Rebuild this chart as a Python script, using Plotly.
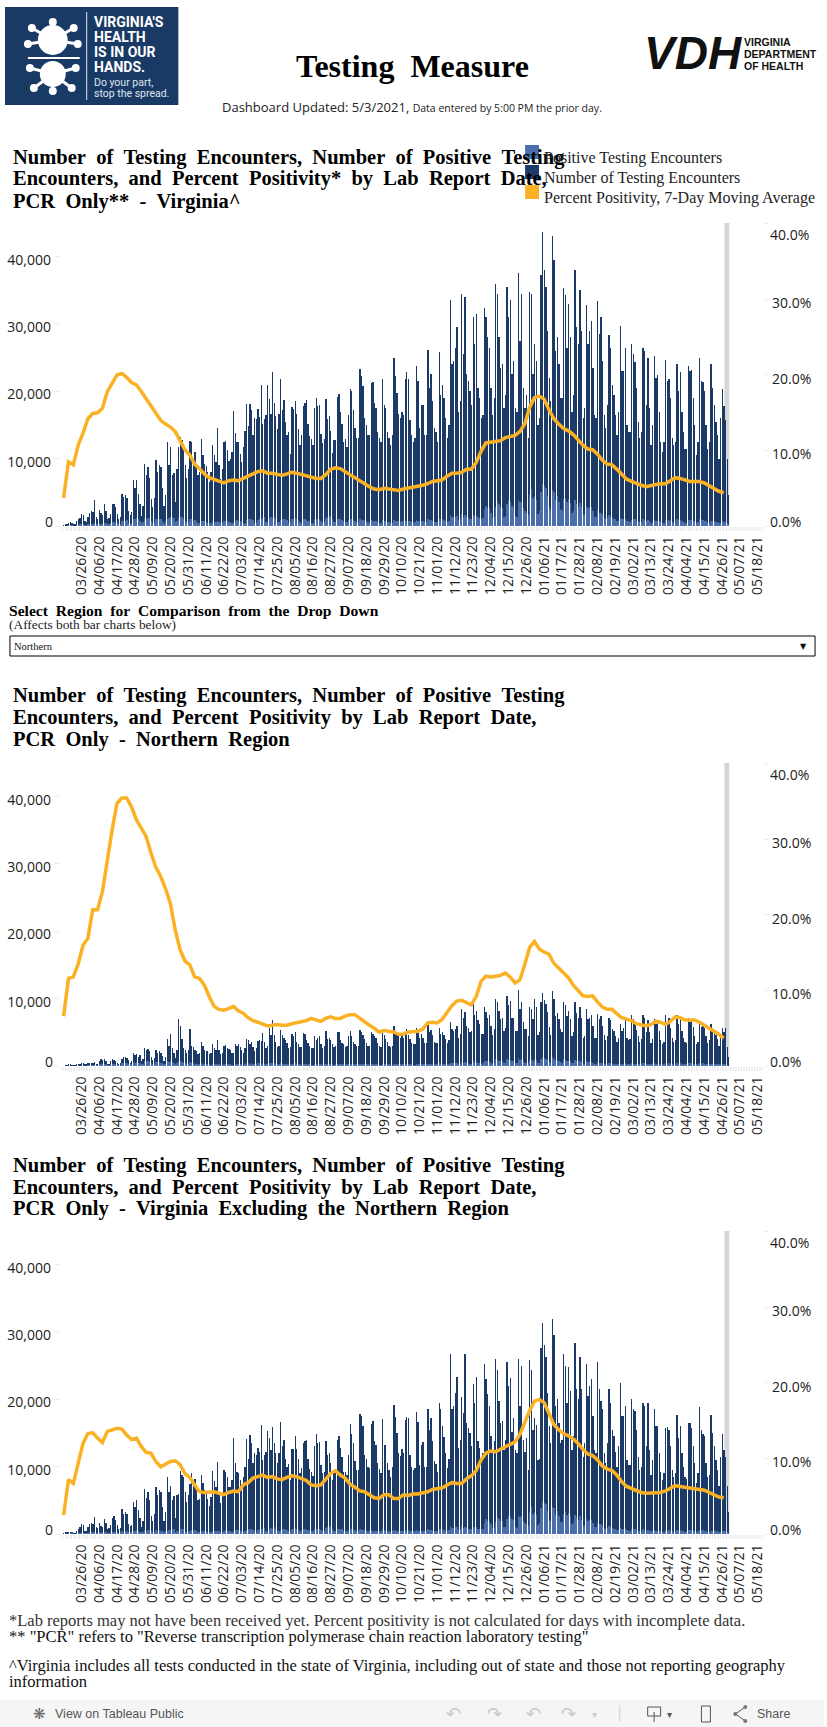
import pandas as pd
import plotly.graph_objects as go

W, H = 827, 1727
TICK_LABELS = ["03/26/20","04/06/20","04/17/20","04/28/20","05/09/20","05/20/20","05/31/20","06/11/20","06/22/20","07/03/20","07/14/20","07/25/20","08/05/20","08/16/20","08/27/20","09/07/20","09/18/20","09/29/20","10/10/20","10/21/20","11/01/20","11/12/20","11/23/20","12/04/20","12/15/20","12/26/20","01/06/21","01/17/21","01/28/21","02/08/21","02/19/21","03/02/21","03/13/21","03/24/21","04/04/21","04/15/21","04/26/21","05/07/21","05/18/21"]
FIRST_DAY = "2020-03-15"
HUNDREDS = 100

# daily counts in hundreds, one group per week
va_total = [
1,3,2,5,6,5,3, 2,7,10,12,18,17,8, 6,13,19,22,21,38,14, 11,24,20,16,32,23,10, 12,18,33,33,28,18,11,
14,48,43,46,42,22,17, 21,68,56,68,48,32,15, 30,92,76,88,72,40,28, 42,98,80,90,88,56,30, 46,125,90,118,76,78,35,
85,118,132,128,118,90,72, 85,126,124,98,110,92,75, 80,129,106,92,89,80,65, 80,120,105,95,145,90,70, 85,125,126,113,96,100,110,
171,138,125,125,107,95,117, 141,181,148,181,172,135,160, 159,174,162,209,151,159,165, 209,189,166,229,182,163,144, 167,219,172,187,154,135,139,
107,177,174,185,166,144,121, 135,178,183,187,151,133,129, 120,175,190,178,180,137,123, 129,189,159,163,141,108,128, 128,192,196,169,151,125,129,
118,165,204,200,172,145,130, 130,233,222,208,160,150,135, 135,212,214,182,175,140,130, 125,219,179,175,140,130,120, 135,249,223,197,166,160,170,
165,219,229,218,158,135,125, 130,238,215,145,180,180,135, 135,261,205,225,185,145,140, 125,259,195,210,190,160,130, 150,336,240,245,265,296,170,
185,345,255,340,225,215,200, 180,311,270,315,205,190,160, 165,323,310,281,265,205,165, 190,360,345,280,235,240,175, 195,355,310,336,225,245,175,
170,375,275,345,205,175,195, 130,348,345,225,270,245,150, 160,373,436,380,355,290,220, 185,431,395,260,280,240,190, 190,353,343,265,330,280,170,
195,380,295,270,350,290,160, 175,328,270,290,305,235,165, 160,334,285,310,245,165,145, 180,284,265,210,195,165,135, 170,297,230,230,264,150,140,
140,270,255,244,205,155,130, 140,264,260,180,250,175,120, 150,252,220,224,170,125,110, 125,247,215,219,190,130,120, 125,241,200,228,170,140,115,
115,238,230,232,190,150,105, 125,249,215,214,200,150,115, 125,241,205,180,155,135,100, 160,204,178,157,99,46]
va_positive = [
0,0,0,1,1,1,0, 0,1,1,2,2,2,1, 1,2,3,3,3,4,2, 2,4,3,3,5,4,2, 2,4,6,6,5,4,2,
3,7,7,8,9,5,3, 4,10,11,12,10,7,4, 6,12,11,12,12,8,5, 6,11,10,11,11,8,5, 7,11,12,13,14,12,6,
8,12,14,14,11,8,6, 6,10,10,8,9,8,5, 5,8,7,7,6,5,4, 4,7,6,6,7,6,4, 4,7,8,7,6,6,4,
5,8,9,8,8,6,5, 5,9,10,10,11,9,5, 5,9,11,11,12,13,6, 6,12,13,12,14,11,6, 6,9,11,10,10,9,5,
6,11,11,12,10,9,6, 5,10,10,9,8,7,5, 5,10,11,10,10,8,5, 6,12,13,14,15,10,6, 6,11,11,10,9,7,6,
6,9,10,10,9,8,6, 6,10,9,9,8,7,6, 5,9,8,7,7,6,5, 5,9,8,7,6,6,5, 5,9,8,7,7,6,7,
7,8,8,8,7,6,6, 6,9,8,7,7,7,6, 6,10,9,9,8,6,6, 6,11,10,10,9,8,6, 8,17,13,13,14,15,9,
10,18,14,17,13,12,11, 10,17,15,16,13,12,10, 12,25,30,27,26,20,12, 14,28,35,32,28,26,14, 15,32,38,35,30,28,15,
14,38,35,36,26,22,20, 16,48,55,42,45,38,18, 22,50,62,60,56,45,28, 24,54,50,38,44,35,25, 24,40,42,36,40,34,20,
22,38,32,28,34,28,16, 16,30,26,28,28,22,14, 13,24,20,20,16,12,10, 12,16,14,12,11,10,8, 8,12,11,10,11,8,7,
6,9,10,10,8,7,6, 6,10,9,8,9,7,5, 6,9,8,8,7,6,5, 5,9,8,9,7,6,5, 6,10,9,9,7,6,5,
5,9,9,9,8,7,5, 6,10,9,9,8,7,5, 5,8,8,7,6,6,4, 4,7,6,6,4,2]
va_pct = [3.7,8.5,8.1,10.7,12.3,14.2,14.9,15,15.6,17.8,18.9,20,20.2,19.7,19,18.7,17.8,16.8,16,14.8,14,13.5,13.1,12.5,11.4,10.1,9.4,8.2,7.6,6.9,6.4,6.2,5.9,5.7,6,6.1,6,6.3,6.6,6.8,7.2,7.3,7,7,6.8,6.7,6.9,7.1,7,6.8,6.7,6.4,6.3,6.3,6.8,7.5,7.7,7.6,7.2,6.8,6.4,5.9,5.6,5.2,4.9,4.8,5,4.9,4.7,4.7,4.9,5,5.1,
5.2,5.4,5.6,5.9,6.0,6.1,6.6,7.0,7.0,7.1,7.5,7.5,8.4,9.9,11.0,11.1,11.1,11.3,11.7,11.9,12.0,12.5,13.5,15.7,17.0,17.2,16.8,15.4,14.2,13.5,12.9,12.6,12.1,11.4,10.7,10.2,10.1,9.5,8.7,8.2,8.1,7.5,6.8,6.2,5.9,5.6,5.4,5.2,5.4,5.5,5.6,5.6,6.0,6.4,6.3,6.1,5.9,5.9,5.9,5.7,5.3,5.0,4.6,4.4]

north_total = [
0,1,1,2,2,1,1, 1,2,3,2,4,4,2, 2,4,5,5,4,6,3, 2,7,11,9,10,7,3, 2,7,10,9,8,4,3,
5,11,14,14,12,9,5, 7,19,16,18,14,16,8, 10,26,24,25,22,14,9, 12,24,20,22,20,15,8, 14,40,30,48,26,20,12,
24,70,59,40,27,24,20, 24,55,30,28,24,22,18, 20,36,30,24,23,22,18, 20,32,27,24,38,24,18, 20,30,31,26,25,24,20,
20,32,29,32,28,24,20, 26,40,39,33,36,28,22, 26,37,38,37,49,36,26, 30,56,46,68,46,36,28, 30,53,46,42,38,34,26,
28,48,45,50,36,32,28, 28,49,47,38,34,30,26, 26,44,38,42,44,32,26, 30,52,40,42,38,33,28, 30,51,50,38,34,32,28,
30,45,52,44,36,32,30, 30,54,50,46,40,34,30, 30,51,48,44,42,34,30, 28,49,46,40,35,30,28, 30,59,52,48,46,42,44,
42,48,55,46,40,34,32, 32,57,50,42,48,42,34, 34,61,50,54,46,36,34, 34,57,48,50,46,40,34, 38,65,55,52,55,60,42,
48,85,72,80,60,56,50, 52,92,75,82,68,62,48, 48,87,80,72,75,60,46, 55,100,95,82,70,72,52, 56,104,90,96,72,72,52,
52,113,85,95,65,55,55, 44,87,85,70,100,88,46, 50,95,108,98,92,80,58, 46,111,100,74,78,70,55, 50,95,90,74,82,70,44,
50,95,78,72,88,72,42, 44,85,70,72,76,60,42, 42,77,70,74,60,46,38, 44,72,68,55,52,44,36, 42,62,52,56,72,42,38,
40,76,70,62,54,44,36, 40,75,72,50,68,50,34, 40,70,62,64,52,38,32, 36,75,62,72,56,42,36, 38,76,62,70,52,42,36,
34,72,66,68,58,44,32, 36,63,58,60,56,44,34, 38,62,56,50,46,40,30, 42,57,50,56,28,13]
north_positive = [
0,0,0,0,0,0,0, 0,0,1,0,1,1,0, 0,1,1,1,1,1,1, 1,2,3,2,3,2,1, 1,2,3,3,3,2,1,
1,4,4,5,4,3,2, 2,6,5,6,5,4,2, 3,7,7,7,6,4,3, 3,6,6,6,5,4,2, 3,7,6,8,6,5,3,
4,8,7,6,5,4,3, 3,6,4,4,3,3,2, 2,4,3,3,3,2,2, 1,3,3,2,3,2,1, 1,3,3,2,2,2,1,
1,3,3,3,3,2,1, 2,4,4,3,4,3,2, 2,4,4,3,4,3,2, 2,4,4,5,4,3,2, 2,4,3,3,3,3,2,
2,3,3,4,3,2,2, 1,3,3,3,2,2,1, 1,3,3,3,3,2,1, 2,3,3,3,3,2,1, 2,3,3,3,2,2,1,
2,3,3,3,3,2,2, 2,3,3,3,2,2,2, 1,3,3,3,2,2,1, 1,2,2,2,2,2,1, 1,3,3,2,2,2,2,
2,2,3,2,2,2,1, 1,3,3,2,2,2,2, 2,3,3,3,3,2,2, 2,4,3,3,3,3,2, 2,5,4,4,4,4,3,
3,6,5,6,4,4,3, 3,7,5,6,5,4,3, 4,8,8,7,7,5,3, 5,10,10,8,7,7,4, 5,10,9,9,7,7,4,
5,12,9,10,7,5,5, 4,9,10,7,11,9,4, 5,11,13,12,11,9,6, 5,13,11,8,9,8,6, 5,10,9,7,8,7,4,
5,9,7,7,8,6,3, 3,7,6,6,6,5,3, 3,6,5,5,4,3,2, 2,4,4,3,3,2,2, 2,3,3,3,4,2,2,
2,4,3,3,3,2,2, 2,4,4,3,3,3,2, 2,4,3,3,3,2,2, 2,4,3,4,3,2,2, 2,4,3,4,3,2,2,
2,4,4,4,3,3,2, 2,4,3,4,3,3,2, 2,3,3,3,3,2,2, 2,3,3,3,1,0]
north_pct = [6.6,11.6,11.8,13.5,16,16.9,20.7,20.7,23.1,27.3,31.3,34.8,35.5,35.5,34.3,32.6,31.5,30.4,28.2,26.3,25.1,23.5,21.5,18,15.4,13.9,13.4,11.8,11.6,10.7,9.2,7.9,7.5,7.4,7.6,7.9,7.3,7,6.4,6,5.8,5.5,5.3,5.4,5.5,5.4,5.4,5.6,5.7,5.8,6,6.3,6.1,5.9,6.3,6.5,6.3,6.3,6.6,6.8,6.8,6.3,5.9,5.4,5,4.5,4.7,4.6,4.5,4.2,4.2,4.5,4.6,
4.6,4.9,5.7,5.8,5.7,6.2,7.2,8.0,8.6,8.7,8.4,8.1,9.2,11.2,11.9,11.8,11.9,12,12.3,11.8,11,11.4,13.4,15.7,16.5,15.5,15.1,14.8,13.6,13,12.4,11.7,10.7,10,9.3,9.2,9.3,8.5,7.8,7.5,7.5,6.9,6.4,6.2,6,5.6,5.4,5.3,5.5,5.9,5.8,5.5,5.9,6.5,6.4,6.1,6.1,6.1,5.8,5.4,5,4.7,4.2,3.7]

rest_total = [
1,2,2,3,3,3,1, 1,5,7,10,15,13,5, 5,10,15,17,15,25,11, 9,17,12,10,23,17,7, 9,13,24,26,21,14,8,
9,37,30,33,30,15,12, 14,48,40,50,36,24,10, 20,67,53,63,50,27,20, 30,70,58,65,62,40,20, 32,85,62,71,50,56,24,
58,60,94,88,85,62,48, 58,74,90,72,82,65,50, 52,88,76,66,62,52,42, 55,94,78,70,107,62,46, 60,95,92,85,70,70,80,
143,105,92,90,80,72,84, 100,141,112,147,135,105,120, 118,128,122,162,110,118,122, 153,142,125,159,135,120,105, 120,167,130,140,112,100,104,
80,126,126,146,126,112,90, 98,135,138,140,112,96,92, 86,130,148,135,137,102,90, 92,138,118,120,105,80,92, 92,140,146,128,115,92,92,
88,118,163,148,135,108,95, 95,178,175,160,118,112,100, 98,163,168,138,132,105,96, 90,171,132,132,105,95,85, 100,192,173,150,120,116,126,
120,170,173,172,118,100,95, 98,181,166,102,132,136,100, 100,186,155,172,138,108,104, 92,195,186,160,144,120,98, 112,268,185,190,210,233,128,
140,204,180,267,165,158,150, 130,222,195,233,138,128,115, 120,252,230,208,190,145,120, 138,260,244,198,165,168,125, 140,256,220,231,152,172,125,
120,260,190,250,140,122,143, 95,258,244,155,172,162,110, 112,276,314,280,263,210,160, 135,319,295,190,200,165,135, 140,267,250,195,248,212,125,
145,283,215,200,263,215,115, 135,253,205,220,230,175,125, 120,256,215,197,185,120,105, 135,216,195,155,145,122,100, 130,224,175,175,190,110,102,
102,200,185,182,155,115,95, 100,194,190,130,195,125,88, 110,186,160,160,120,92,80, 90,158,159,155,130,95,85, 90,176,142,160,120,100,85,
82,165,165,158,130,105,75, 90,188,155,148,145,105,85, 88,176,150,130,110,95,72, 115,148,125,115,72,33]
rest_positive = [
0,0,0,1,1,1,0, 0,1,1,1,2,1,1, 1,1,2,2,2,3,1, 1,2,2,1,3,2,1, 1,2,3,3,3,2,1,
2,4,3,4,4,2,2, 2,5,5,6,5,3,2, 3,6,5,6,6,4,3, 3,6,5,6,5,4,3, 4,5,6,6,7,7,3,
4,5,7,8,7,5,3, 4,5,6,5,6,5,3, 3,5,5,4,4,3,3, 3,5,4,4,5,4,3, 3,5,6,5,5,4,3,
4,6,6,6,5,4,3, 4,6,7,7,8,6,4, 3,6,7,8,8,9,5, 4,8,9,8,10,8,5, 4,6,8,8,7,6,4,
4,8,8,9,8,7,4, 4,7,7,6,6,5,4, 4,7,8,7,7,6,4, 4,9,10,11,12,8,5, 5,8,8,7,7,5,4,
4,6,7,7,6,6,4, 4,7,7,6,6,5,4, 4,6,5,5,5,4,4, 4,7,6,5,4,4,3, 4,6,6,5,5,4,5,
5,6,5,6,5,4,4, 5,6,5,5,5,5,4, 4,7,6,6,5,4,4, 4,7,7,7,6,5,4, 6,12,9,9,10,11,6,
7,12,9,11,9,8,8, 7,10,10,10,8,8,7, 8,17,22,20,19,15,9, 9,18,25,22,20,19,10, 10,22,27,25,22,21,11,
9,26,25,26,19,16,15, 12,32,40,30,33,28,13, 16,38,48,46,44,34,21, 19,40,38,28,34,26,18, 18,30,32,28,31,26,15,
17,28,25,21,26,21,12, 12,22,20,21,21,16,10, 10,17,15,15,12,9,7, 9,12,10,9,8,7,6, 6,9,8,7,8,6,5,
4,7,7,7,6,5,4, 4,7,6,5,6,5,4, 4,6,5,5,5,4,3, 3,6,5,6,5,4,3, 4,6,6,6,5,4,3,
4,6,6,6,5,4,3, 4,6,6,6,5,4,3, 3,5,5,5,4,4,3, 3,5,4,4,2,1]
rest_pct = [2.5,7.2,6.7,9.6,12,13.3,13.4,12.7,12.1,13.6,13.8,14,13.9,13.1,12.5,12.7,11.6,10.8,10.7,9.6,8.9,9.2,9.6,9.7,9.2,8,7.5,6.5,5.6,5.5,5.5,5.6,5.4,5.2,5.5,5.7,5.6,6.5,6.8,7.4,7.6,7.8,7.5,7.6,7.3,7.2,7.5,7.7,7.6,7.4,7.1,6.5,6.4,6.5,7.2,8,8.4,7.8,7.4,6.6,6.2,5.7,5.6,5.2,4.8,4.7,5.2,5.2,4.7,4.7,5.2,5.1,5.3,
5.3,5.4,5.6,5.9,6.0,6.1,6.5,6.8,6.7,6.7,7.3,7.7,8.4,9.8,10.7,11,10.9,11.2,11.5,11.9,12.2,13.2,14.8,16.3,17.6,17.8,17.4,15.9,14.5,13.8,13.3,13,12.6,12,11.2,10.6,10.4,9.8,9,8.6,8.4,7.8,6.9,6.3,6.0,5.8,5.5,5.4,5.4,5.5,5.5,5.7,6.1,6.4,6.3,6.2,6.1,6,6,5.8,5.5,5.2,4.9,4.8]

NAVY, BLUE, GOLD = "#1b3a68", "#4a6fab", "#fbb124"
SERIF, SANS, UI = "Liberation Serif", "Open Sans", "Liberation Sans"
BAR_DAYS = 0.2

def px(x): return x / W
def py(y): return 1 - y / H

days = pd.date_range(FIRST_DAY, periods=len(va_total), freq="D")
line_days = pd.date_range(FIRST_DAY, periods=len(va_pct), freq="3D")
tick_dates = [pd.to_datetime(t, format="%m/%d/%y").strftime("%Y-%m-%d") for t in TICK_LABELS]

fig = go.Figure()
shapes, notes = [], []

def txt(x, y, s, size=12, fam=SERIF, col="#000", bold=False, anchor="left"):
    t = f"<b>{s}</b>" if bold else s
    notes.append(dict(x=px(x), y=py(y), xref="paper", yref="paper", text=t, showarrow=False,
                      xanchor=anchor, yanchor="middle", borderpad=0, borderwidth=0,
                      font=dict(family=fam, size=size, color=col)))

def rect(x0, y0, x1, y1, fill="rgba(0,0,0,0)", line=None, lw=0):
    shapes.append(dict(type="rect", xref="paper", yref="paper", x0=px(x0), x1=px(x1), y0=py(y0), y1=py(y1),
                       fillcolor=fill, line=dict(color=line or fill, width=lw), layer="above"))

def oval(cx, cy, r, fill="#fff"):
    shapes.append(dict(type="circle", xref="paper", yref="paper", x0=px(cx-r), x1=px(cx+r), y0=py(cy-r), y1=py(cy+r),
                       fillcolor=fill, line=dict(width=0), layer="above"))

def seg(x0, y0, x1, y1, col="#fff", lw=2):
    shapes.append(dict(type="line", xref="paper", yref="paper", x0=px(x0), x1=px(x1), y0=py(y0), y1=py(y1),
                       line=dict(color=col, width=lw), layer="above"))

# three panels
panels = [(va_total, va_positive, va_pct, 223, 526, "", "2"),
          (north_total, north_positive, north_pct, 763, 1066, "3", "4"),
          (rest_total, rest_positive, rest_pct, 1231, 1534, "5", "6")]
layout_axes = {}
for i, (tot, pos, pct, top, bot, a, b) in enumerate(panels):
    xn = "x" if i == 0 else f"x{i+1}"
    yl = "y" + a
    yr = "y" + b
    fig.add_trace(go.Bar(x=days, y=[v * HUNDREDS for v in tot], xaxis=xn, yaxis=yl, marker=dict(color=NAVY, line=dict(width=0)),
                         width=86400000 * BAR_DAYS, name="Number of Testing Encounters"))
    fig.add_trace(go.Bar(x=days, y=[v * HUNDREDS for v in pos], xaxis=xn, yaxis=yl, marker=dict(color=BLUE, line=dict(width=0)),
                         width=86400000 * BAR_DAYS, name="Positive Testing Encounters"))
    fig.add_trace(go.Scatter(x=line_days, y=pct, xaxis=xn, yaxis=yr, mode="lines", line=dict(color=GOLD, width=3.5),
                             name="Percent Positivity, 7-Day Moving Average"))
    dom = [py(bot), py(top)]
    axfont = dict(family=SANS, size=14, color="#222")
    layout_axes[xn.replace("x", "xaxis")] = dict(
        domain=[px(61), px(766)], anchor=yl, range=["2020-03-13 06:00", "2021-05-21 10:00"], type="date",
        tickmode="array", tickvals=tick_dates, ticktext=TICK_LABELS, tickangle=-90, tickfont=axfont,
        ticks="outside", ticklen=4, tickcolor="#ececec", showgrid=False, zeroline=False, showline=False,
        minor=dict(dtick=86400000, tick0=FIRST_DAY, ticks="outside", ticklen=4, tickcolor="#ececec", showgrid=False))
    layout_axes[yl.replace("y", "yaxis")] = dict(
        domain=dom, anchor=xn, range=[0, 44990], tickmode="array", tickvals=[0, 10000, 20000, 30000, 40000],
        ticktext=["", "10,000", "20,000", "30,000", "40,000"], tickfont=axfont, ticks="outside", ticklen=6, tickcolor="#eeeeee",
        showgrid=False, zeroline=False, showline=False, ticklabelshift=3)
    layout_axes[yr.replace("y", "yaxis")] = dict(
        domain=dom, anchor=xn, overlaying=yl, side="right", range=[0, 40.13], tickmode="array", tickvals=[0, 10, 20, 30, 40],
        ticktext=["", "10.0%", "20.0%", "30.0%", ""], tickfont=axfont, ticks="outside", ticklen=5, tickcolor="#eeeeee",
        showgrid=False, zeroline=False, showline=False, ticklabelshift=4)
    shapes.append(dict(type="rect", xref=xn, yref=f"{yl} domain", x0="2021-04-27 10:00", x1="2021-04-30 10:00", y0=0, y1=1,
                       fillcolor="#d6d6d6", line=dict(width=0), layer="below"))
    txt(53, bot - 5, "0", 14, SANS, "#222", anchor="right")
    txt(773, bot - 5, "0.0%", 14, SANS, "#222")
    txt(773, top + 11, "40.0%", 14, SANS, "#222")

# header logo
rect(5, 7, 179, 105, "#1a3a66")
oval(53, 40, 15); oval(53, 74, 13)
for x0, y0, x1, y1 in [(53,40,53,22),(53,40,32,28),(53,40,74,28),(53,40,28,44),(53,40,78,44),(53,74,53,91),(53,74,34,88),(53,74,72,88),(53,74,30,68),(53,74,76,68)]:
    seg(x0, y0, x1, y1, lw=3); oval(x1, y1, 4)
seg(28, 58, 80, 58, lw=2)
seg(87, 12, 87, 100, "#dfe6f0", 1)
for y, s in [(22, "VIRGINIA'S"), (37, "HEALTH"), (52, "IS IN OUR"), (67, "HANDS.")]:
    txt(94, y, s, 14, "Roboto", "#fff", True)
txt(94, 83, "Do your part,", 10.5, "Roboto", "#dfe6f0")
txt(94, 94, "stop the spread.", 10.5, "Roboto", "#dfe6f0")

# VDH mark
txt(646, 53, "<i>VDH</i>", 46, UI, "#111", True)
for y, s in [(42, "VIRGINIA"), (54, "DEPARTMENT"), (66, "OF HEALTH")]:
    txt(747, y, s, 10.5, UI, "#111", True)

txt(414, 66, "Testing\u00a0\u00a0Measure", 32, SERIF, "#000", True, "center")
txt(223, 107, "Dashboard Updated: 5/3/2021, <span style='font-size:10.5px'>Data entered by 5:00 PM the prior day.</span>", 13, SANS, "#222")

def title(lines, ys):
    for y, s in zip(ys, lines):
        txt(13, y, s.replace(" ", "\u00a0\u00a0"), 20.5, SERIF, "#000", True)

title(["Number of Testing Encounters, Number of Positive Testing",
       "Encounters, and Percent Positivity* by Lab Report Date,",
       "PCR Only** - Virginia^"], [157, 178, 201])
title(["Number of Testing Encounters, Number of Positive Testing",
       "Encounters, and Percent Positivity by Lab Report Date,",
       "PCR Only - Northern Region"], [695, 717, 739])
title(["Number of Testing Encounters, Number of Positive Testing",
       "Encounters, and Percent Positivity by Lab Report Date,",
       "PCR Only - Virginia Excluding the Northern Region"], [1165, 1187, 1208])

# legend
for y, col, s in [(145, BLUE, "Positive Testing Encounters"), (165, NAVY, "Number of Testing Encounters"),
                  (185, GOLD, "Percent Positivity, 7-Day Moving Average")]:
    rect(527, y, 541, y + 14, col)
    txt(546, y + 13, s, 16, SERIF, "#222")

# filter
txt(9, 610, "Select Region for Comparison from the Drop Down".replace(" ", "\u00a0\u00a0"), 15.6, SERIF, "#000", True)
txt(9, 625, "(Affects both bar charts below)", 13.4, SERIF, "#222")
rect(10, 636, 818, 656, "rgba(0,0,0,0)", "#000", 1)
txt(14, 647, "Northern", 10.5, SERIF, "#111")
txt(806, 646, "\u25bc", 8, "DejaVu Sans", "#111", anchor="center")

# footnotes
txt(9, 1620, "*Lab reports may not have been received yet. Percent positivity is not calculated for days with incomplete data.", 16.5, SERIF, "#333")
txt(9, 1636, "** \"PCR\" refers to \"Reverse transcription polymerase chain reaction laboratory testing\"", 16.5, SERIF, "#111")
txt(9, 1665, "^Virginia includes all tests conducted in the state of Virginia, including out of state and those not reporting geography", 16.5, SERIF, "#111")
txt(9, 1681, "information", 16.5, SERIF, "#111")

# toolbar
rect(0, 1700, 827, 1727, "#f5f5f5")
txt(40, 1714, "\u274b", 15, "DejaVu Sans", "#666", anchor="center")
txt(55, 1714, "View on Tableau Public", 12.5, UI, "#555")
for x, g in [(455, "\u21b6"), (496, "\u21b7"), (535, "\u21b6"), (571, "\u21b7")]:
    txt(x, 1713, g, 18, "DejaVu Sans", "#c9c9c9", anchor="center")
txt(597, 1714, "\u25be", 10, "DejaVu Sans", "#c9c9c9", anchor="center")
seg(622, 1705, 622, 1722, "#cfcfcf", 1)
for a in [(650, 1707, 663, 1707), (650, 1707, 650, 1716), (663, 1707, 663, 1716), (650, 1716, 663, 1716), (656.5, 1712, 656.5, 1722)]:
    seg(*a, "#555", 1)
txt(672, 1714, "\u25be", 10, "DejaVu Sans", "#555", anchor="center")
rect(704, 1706, 713, 1722, "rgba(0,0,0,0)", "#555", 1)
for a, b in [((738, 1714), (748, 1707)), ((738, 1714), (748, 1721))]:
    seg(a[0], a[1], b[0], b[1], "#555", 1)
for cx, cy in [(738, 1714), (748, 1707), (748, 1721)]:
    oval(cx, cy, 2, "#777")
txt(760, 1714, "Share", 12.5, UI, "#555")

fig.update_layout(width=W, height=H, autosize=False, margin=dict(l=0, r=0, t=0, b=0), barmode="overlay", bargap=0,
                  plot_bgcolor="#fff", paper_bgcolor="#fff", showlegend=False, shapes=shapes, annotations=notes, **layout_axes)
fig.write_html("out.html", config={"displayModeBar": False}, post_script="document.body.style.margin='0';")
